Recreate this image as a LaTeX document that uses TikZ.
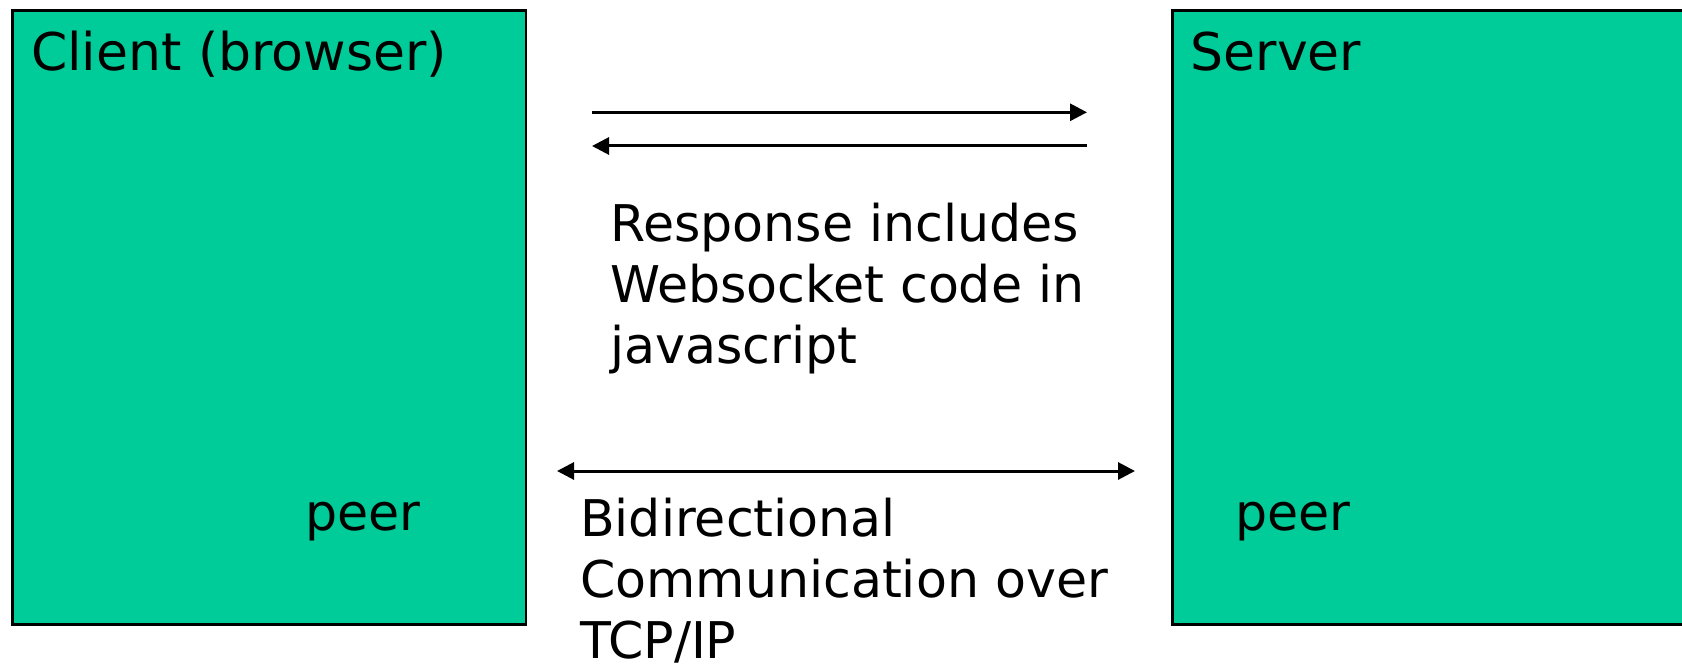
\documentclass[tikz,border=0pt]{standalone}
\usepackage{fontspec}
\setmainfont{DejaVu Sans}
\usetikzlibrary{arrows.meta}
\definecolor{boxgreen}{RGB}{0,204,153}
\tikzset{
  panel/.style={draw=black, line width=2.5pt, fill=boxgreen, inner sep=0pt, anchor=north west},
  title/.style={anchor=base west, inner sep=0pt, font=\fontsize{52}{62}\selectfont},
  body/.style={anchor=base west, inner sep=0pt, align=left, font=\fontsize{50.6}{60.8}\selectfont},
  link/.style={line width=3pt, -{Triangle[length=17pt,width=17pt]}},
  blink/.style={line width=3pt, {Triangle[length=17pt,width=17pt]}-{Triangle[length=17pt,width=17pt]}}
}
\begin{document}
\begin{tikzpicture}[x=1pt,y=-1pt]
\useasboundingbox (0,0) rectangle (1682,666);
\clip (0,0) rectangle (1682,666);
\node[panel, minimum width=513.5pt, minimum height=613.7pt] (client) at (11,9.3) {};
\node[panel, minimum width=530pt, minimum height=613.7pt] (server) at (1171,9.3) {};
\node[title] (clientlbl) at (31,70.7) {Client (browser)};
\node[title] (serverlbl) at (1190.5,70.7) {Server};
\node[body] (peerl) at (305,530) {peer};
\node[body] (peerr) at (1235,530) {peer};
\coordinate (r1s) at (592,112.3);
\coordinate (r1e) at (1087,112.3);
\coordinate (r2s) at (1087,146);
\coordinate (r2e) at (592,146);
\coordinate (bl) at (557,471);
\coordinate (br) at (1135,471);
\draw[link] (r1s) -- (r1e);
\draw[link] (r2s) -- (r2e);
\draw[blink] (bl) -- (br);
\node[body] (resp) at (610,363) {Response includes\\Websocket code in\\javascript};
\node[body] (bidi) at (580,658) {Bidirectional\\Communication over\\TCP/IP};
\end{tikzpicture}
\end{document}
